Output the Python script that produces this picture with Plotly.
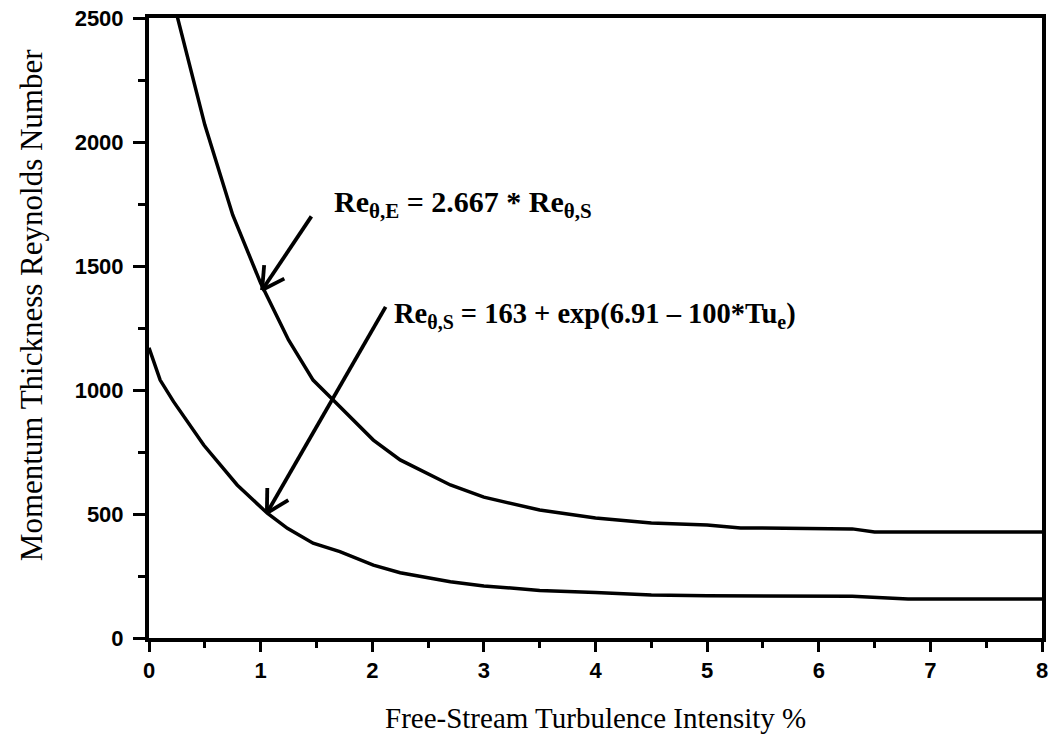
import math
import plotly.graph_objects as go

# Free-stream turbulence intensity (%) and momentum-thickness Reynolds numbers
tu_lower = [0, 0.1, 0.22, 0.49, 0.79, 1.06, 1.24, 1.47, 1.71, 2.01, 2.25, 2.7, 3.0, 3.5, 4.0, 4.5, 5.0, 6.3, 6.8, 8.0]
re_s = [1170, 1040, 953, 778, 617, 503, 442, 382, 348, 294, 263, 227, 210, 192, 183, 173, 170, 168, 157, 157]

tu_upper = [0.2, 0.5, 0.75, 1.0, 1.25, 1.47, 1.65, 2.01, 2.25, 2.55, 2.7, 3.0, 3.5, 4.0, 4.5, 5.0, 5.3, 6.3, 6.5, 8.0]
re_e = [2600, 2069, 1706, 1431, 1202, 1040, 960, 798, 718, 650, 617, 568, 516, 484, 464, 456, 444, 440, 427, 427]

x_ticks = [0, 1, 2, 3, 4, 5, 6, 7, 8]
y_ticks = [0, 500, 1000, 1500, 2000, 2500]

x_title = "Free-Stream Turbulence Intensity %"
y_title = "Momentum Thickness Reynolds Number"
label_e = "<b>Re<sub>θ,E</sub> = 2.667 * Re<sub>θ,S</sub></b>"
label_s = "<b>Re<sub>θ,S</sub> = 163 + exp(6.91 – 100*Tu<sub>e</sub>)</b>"

# arrow (tail -> tip) in data units
arrow_e = ((1.455, 1700), (1.013, 1403))
arrow_s = ((2.12, 1335), (1.056, 504))

W, H = 1050, 750
L, R, T, B = 149, 2, 18, 112
X_RANGE = (0, 8)
Y_RANGE = (0, 2500)
pxx = 111.5
pxy = (H - T - B) / (Y_RANGE[1] - Y_RANGE[0])

fig = go.Figure()
fig.add_trace(go.Scatter(x=tu_upper, y=re_e, mode="lines",
                         line=dict(color="black", width=3.5), showlegend=False))
fig.add_trace(go.Scatter(x=tu_lower, y=re_s, mode="lines",
                         line=dict(color="black", width=3.5), showlegend=False))

shapes = []
def add_arrow(tail, tip, blen=25, ang=29):
    (x0, y0), (x1, y1) = tail, tip
    shapes.append(dict(type="line", xref="x", yref="y", x0=x0, y0=y0, x1=x1, y1=y1,
                       line=dict(color="black", width=3.8)))
    dx = (x0 - x1) * pxx
    dy = (y0 - y1) * pxy
    a = math.atan2(dy, dx)
    for s in (-1, 1):
        b = a + s * math.radians(ang)
        bx = x1 + blen * math.cos(b) / pxx
        by = y1 + blen * math.sin(b) / pxy
        shapes.append(dict(type="line", xref="x", yref="y", x0=x1, y0=y1, x1=bx, y1=by,
                           line=dict(color="black", width=3.8)))

add_arrow(*arrow_e)
add_arrow(*arrow_s)

serif = "Liberation Serif, Times New Roman, serif"
sans = "Liberation Sans, Arial, sans-serif"

annotations = [
    dict(x=1.64, y=1752, xref="x", yref="y", text=label_e, showarrow=False,
         xanchor="left", yanchor="middle", font=dict(family=serif, size=30, color="black")),
    dict(x=2.18, y=1300, xref="x", yref="y", text=label_s, showarrow=False,
         xanchor="left", yanchor="middle", font=dict(family=serif, size=28.5, color="black")),
    dict(x=0.5, y=-0.129, xref="paper", yref="paper", text=x_title, showarrow=False,
         xanchor="center", yanchor="middle", font=dict(family=serif, size=29, color="black")),
    dict(x=-0.132, y=0.537, xref="paper", yref="paper", text=y_title, showarrow=False,
         textangle=-90, xanchor="center", yanchor="middle",
         font=dict(family=serif, size=31, color="black")),
]

fig.update_layout(
    width=W, height=H,
    margin=dict(l=L, r=R, t=T, b=B),
    paper_bgcolor="white", plot_bgcolor="white",
    shapes=shapes, annotations=annotations,
    xaxis=dict(range=list(X_RANGE), tickvals=x_ticks, ticktext=[str(v) for v in x_ticks],
               showgrid=False, zeroline=False, showline=True, linecolor="black", linewidth=4,
               mirror=True, ticks="outside", ticklen=10, tickwidth=3, tickcolor="black",
               ticklabeloverflow="allow",
               minor=dict(dtick=0.5, ticks="outside", ticklen=6, tickwidth=3, tickcolor="black"),
               tickfont=dict(family=sans, size=22, color="black", weight="bold")),
    yaxis=dict(range=list(Y_RANGE), tickvals=y_ticks, ticktext=[str(v) for v in y_ticks],
               showgrid=False, zeroline=False, showline=True, linecolor="black", linewidth=4,
               mirror=True, ticks="outside", ticklen=12, tickwidth=3, tickcolor="black",
               ticklabelstandoff=5, ticklabeloverflow="allow",
               minor=dict(dtick=250, ticks="outside", ticklen=7, tickwidth=3, tickcolor="black"),
               tickfont=dict(family=sans, size=22, color="black", weight="bold")),
)

fig.write_html("out.html")
